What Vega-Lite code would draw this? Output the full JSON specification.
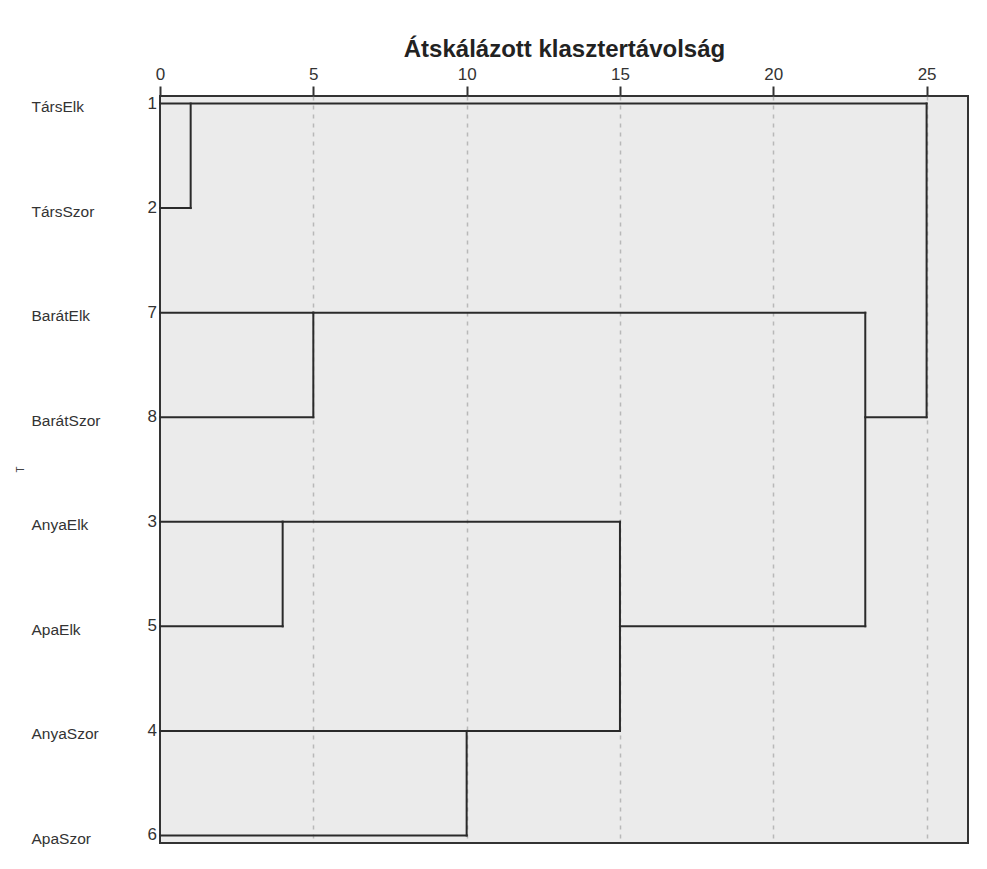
{
  "$schema": "https://vega.github.io/schema/vega-lite/v6.json",
  "width": 808,
  "height": 747,
  "autosize": {"type": "none"},
  "padding": {"left": 160, "top": 96, "right": 19, "bottom": 26},
  "background": "white",
  "config": {
    "font": "Liberation Sans",
    "view": {"fill": "#ebebeb", "stroke": "#333333", "strokeWidth": 2}
  },
  "datasets": {
    "rows": [
      {"name": "TársElk", "case": "1"},
      {"name": "TársSzor", "case": "2"},
      {"name": "BarátElk", "case": "7"},
      {"name": "BarátSzor", "case": "8"},
      {"name": "AnyaElk", "case": "3"},
      {"name": "ApaElk", "case": "5"},
      {"name": "AnyaSzor", "case": "4"},
      {"name": "ApaSzor", "case": "6"}
    ],
    "segs": [
      {"from": 0, "to": 25, "r1": "TársElk", "r2": "TársElk"},
      {"from": 0, "to": 1, "r1": "TársSzor", "r2": "TársSzor"},
      {"from": 1, "to": 1, "r1": "TársElk", "r2": "TársSzor"},
      {"from": 0, "to": 5, "r1": "BarátElk", "r2": "BarátElk"},
      {"from": 0, "to": 5, "r1": "BarátSzor", "r2": "BarátSzor"},
      {"from": 5, "to": 5, "r1": "BarátElk", "r2": "BarátSzor"},
      {"from": 5, "to": 23, "r1": "BarátElk", "r2": "BarátElk"},
      {"from": 0, "to": 4, "r1": "AnyaElk", "r2": "AnyaElk"},
      {"from": 0, "to": 4, "r1": "ApaElk", "r2": "ApaElk"},
      {"from": 4, "to": 4, "r1": "AnyaElk", "r2": "ApaElk"},
      {"from": 4, "to": 15, "r1": "AnyaElk", "r2": "AnyaElk"},
      {"from": 0, "to": 10, "r1": "AnyaSzor", "r2": "AnyaSzor"},
      {"from": 0, "to": 10, "r1": "ApaSzor", "r2": "ApaSzor"},
      {"from": 10, "to": 10, "r1": "AnyaSzor", "r2": "ApaSzor"},
      {"from": 10, "to": 15, "r1": "AnyaSzor", "r2": "AnyaSzor"},
      {"from": 15, "to": 15, "r1": "AnyaElk", "r2": "AnyaSzor"},
      {"from": 15, "to": 23, "r1": "ApaElk", "r2": "ApaElk"},
      {"from": 23, "to": 23, "r1": "BarátElk", "r2": "ApaElk"},
      {"from": 23, "to": 25, "r1": "BarátSzor", "r2": "BarátSzor"},
      {"from": 25, "to": 25, "r1": "TársElk", "r2": "BarátSzor"}
    ]
  },
  "layer": [
    {
      "data": {"name": "segs"},
      "mark": {"type": "rule", "color": "#2a2a2a", "strokeWidth": 2, "strokeCap": "square"},
      "encoding": {
        "x": {
          "field": "from", "type": "quantitative",
          "scale": {"domain": [0, 26.35], "nice": false, "zero": false},
          "axis": {
            "orient": "top",
            "values": [0, 5, 10, 15, 20, 25],
            "title": "Átskálázott klasztertávolság",
            "titleFontSize": 24,
            "titleFontWeight": "bold",
            "titleColor": "#222222",
            "titlePadding": 4,
            "labelFontSize": 17,
            "labelColor": "#333333",
            "labelPadding": 3,
            "labelFlush": false,
            "tickSize": 10,
            "tickWidth": 2,
            "tickColor": "#333333",
            "domain": false,
            "grid": true,
            "gridDash": [4, 5],
            "gridColor": {"condition": {"test": "datum.value === 0", "value": "transparent"}, "value": "#b8b8b8"},
            "gridWidth": 1.5
          }
        },
        "x2": {"field": "to"},
        "y": {
          "field": "r1", "type": "nominal",
          "scale": {
            "type": "point",
            "domain": ["TársElk", "TársSzor", "BarátElk", "BarátSzor", "AnyaElk", "ApaElk", "AnyaSzor", "ApaSzor"],
            "padding": 0.0718
          },
          "axis": {
            "title": "T",
            "titleFontSize": 10,
            "titleFontWeight": "normal",
            "titleColor": "#444444",
            "titleX": -135,
            "titleY": 373,
            "labelAlign": "left",
            "labelBaseline": "middle",
            "labelPadding": 129,
            "labelOffset": 3,
            "labelFontSize": 15.5,
            "labelColor": "#333333",
            "ticks": false,
            "tickSize": 0,
            "domain": false,
            "grid": false
          }
        },
        "y2": {"field": "r2"}
      }
    },
    {
      "data": {"name": "rows"},
      "mark": {"type": "text", "align": "right", "baseline": "middle", "dx": -3, "fontSize": 17, "color": "#333333"},
      "encoding": {
        "x": {"datum": 0},
        "y": {"field": "name", "type": "nominal"},
        "text": {"field": "case"}
      }
    }
  ]
}
